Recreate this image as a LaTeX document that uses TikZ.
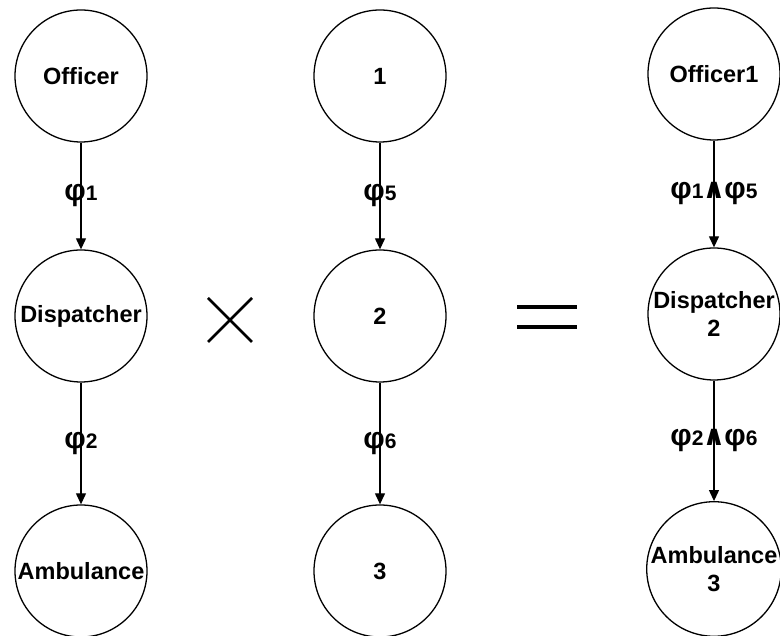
\documentclass[tikz,border=0pt]{standalone}
\usepackage{fontspec}
\setmainfont{Liberation Sans}
\newfontfamily\symfont{DejaVu Sans}
\usetikzlibrary{arrows.meta}
\newcommand{\phsub}[1]{{\fontsize{30}{30}\selectfont φ}{\fontsize{21}{21}\selectfont #1}}
\newcommand{\andsym}{{\symfont\bfseries\fontsize{28}{28}\selectfont\kern-1pt ∧\kern-1pt}}
\begin{document}
\begin{tikzpicture}[x=1pt,y=1pt,
  state/.style={circle,draw,line width=1.3pt,minimum size=132pt,inner sep=0pt,align=center,
    font=\fontsize{23.5}{28}\selectfont\bfseries},
  trans/.style={line width=1.2pt,-{Triangle[length=11pt,width=10pt]}},
  lbl/.style={inner sep=0pt,font=\bfseries},
  opline/.style={line width=2.8pt}]
\useasboundingbox (0,0) rectangle (780,636);
% left column
\node[state] (o) at (81,560) {Officer};
\node[state] (d) at (81,320) {Dispatcher};
\node[state] (a) at (81,65) {Ambulance};
% middle column
\node[state] (n1) at (380,560) {1};
\node[state] (n2) at (380,320) {2};
\node[state] (n3) at (380,65) {3};
% right column
\node[state] (po) at (714,562) {Officer1};
\node[state] (pd) at (714,322) {Dispatcher\\2};
\node[state] (pa) at (714,67) {Ambulance\\3};
% connectors
\draw[trans] (o) -- node[lbl] {\phsub{1}} (d);
\draw[trans] (d) -- node[lbl] {\phsub{2}} (a);
\draw[trans] (n1) -- node[lbl] {\phsub{5}} (n2);
\draw[trans] (n2) -- node[lbl] {\phsub{6}} (n3);
\draw[trans] (po) -- node[lbl] {\phsub{1}\andsym\phsub{5}} (pd);
\draw[trans] (pd) -- node[lbl] {\phsub{2}\andsym\phsub{6}} (pa);
% operators
\coordinate (x1) at (208,338);
\coordinate (x2) at (252,294);
\coordinate (x3) at (208,294);
\coordinate (x4) at (252,338);
\draw[opline] (x1) -- (x2);
\draw[opline] (x3) -- (x4);
\coordinate (e1) at (517,329);
\coordinate (e2) at (577,329);
\coordinate (e3) at (517,309);
\coordinate (e4) at (577,309);
\draw[opline,line width=3.5pt] (e1) -- (e2);
\draw[opline,line width=3.5pt] (e3) -- (e4);
\end{tikzpicture}
\end{document}
